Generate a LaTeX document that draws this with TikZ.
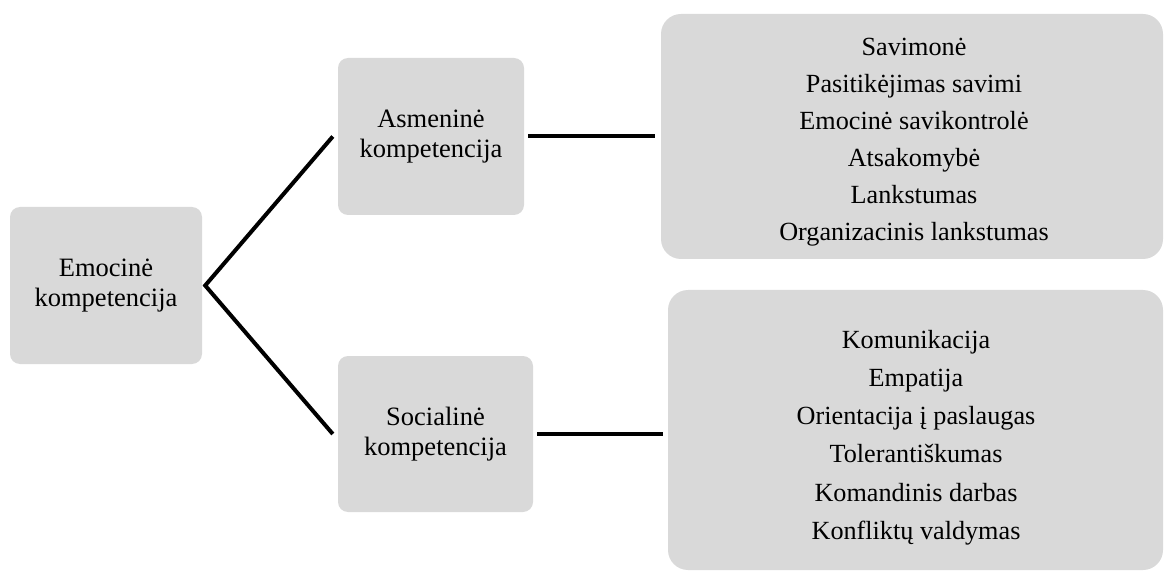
\documentclass[tikz,border=0pt]{standalone}
\usepackage{fontspec}
\setmainfont{Liberation Serif}
\definecolor{boxgray}{HTML}{D9D9D9}
\begin{document}
\begin{tikzpicture}[x=1pt,y=-1pt,
  box/.style={fill=boxgray, rounded corners=10pt, inner sep=0pt, align=center,
    font=\fontsize{26.5}{30}\selectfont},
  bigbox/.style={fill=boxgray, rounded corners=20pt, inner sep=0pt},
  list/.style={inner sep=0pt, align=center},
  conn/.style={line width=4pt, black}]
\useasboundingbox (0,0) rectangle (1171,572);
\node[box, minimum width=192pt, minimum height=157pt] (e) at (106,285.5) {Emocinė\\kompetencija};
\node[box, minimum width=186pt, minimum height=157pt] (a) at (431,136.5) {Asmeninė\\kompetencija};
\node[box, minimum width=195pt, minimum height=156pt] (s) at (435.5,434) {Socialinė\\kompetencija};
\node[bigbox, minimum width=502pt, minimum height=245pt] (p) at (912,136.5) {};
\node[list, font=\fontsize{26.2}{37}\selectfont] (pt) at (914,142.5)
  {Savimonė\\Pasitikėjimas savimi\\Emocinė savikontrolė\\Atsakomybė\\Lankstumas\\Organizacinis lankstumas};
\node[bigbox, minimum width=495pt, minimum height=280pt] (q) at (915.5,430) {};
\node[list, font=\fontsize{26.2}{38.2}\selectfont] (qt) at (916,437.5)
  {Komunikacija\\Empatija\\Orientacija į paslaugas\\Tolerantiškumas\\Komandinis darbas\\Konfliktų valdymas};
\draw[conn] ([xshift=-5pt]a.west) -- ([xshift=3pt]e.east) -- ([xshift=-5pt]s.west);
\draw[conn] ([xshift=4pt]a.east) -- ([xshift=-6pt]a.east -| p.west);
\draw[conn] ([xshift=4pt]s.east) -- ([xshift=-5pt]s.east -| q.west);
\end{tikzpicture}
\end{document}
